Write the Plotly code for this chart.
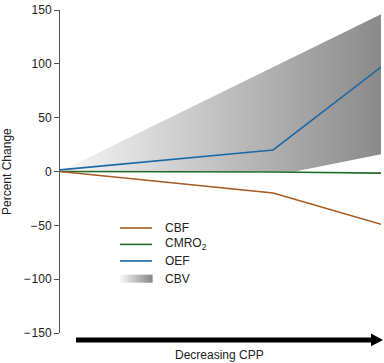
import plotly.graph_objects as go

# ---- data ----
cpp_stage = [0.0, 0.664, 1.0]
cbf = [0, -20, -49]
cmro2 = [0, -0.5, -1.5]
oef = [1.5, 20, 97]
cbv_upper_x = [0.0, 1.0]
cbv_upper = [0, 146]
cbv_lower_x = [0.0, 0.732, 1.0]
cbv_lower = [0, 0, 16]
y_tickvals = [150, 100, 50, 0, -50, -100, -150]
y_ticktext = ["150", "100", "50", "0", "\u2212\u200a50", "\u2212\u200a100", "\u2212\u200a150"]
legend_names = ["CBF", "CMRO<sub>2</sub>", "OEF", "CBV"]

C_CBF = "#a65a1f"
C_CMRO = "#1f6b2a"
C_OEF = "#1d68a3"
FONT = "Liberation Sans, Arial, sans-serif"

fig = go.Figure()

# CBV band (gradient)
band_x = cbv_upper_x + cbv_lower_x[::-1]
band_y = cbv_upper + cbv_lower[::-1]
fig.add_trace(go.Scatter(
    x=band_x, y=band_y, mode="lines", fill="toself",
    line=dict(width=0, color="rgba(0,0,0,0)"),
    fillgradient=dict(type="horizontal",
                      colorscale=[[0, "#f7f7f7"], [1, "#8a8a8a"]]),
    hoverinfo="skip", showlegend=False))

fig.add_trace(go.Scatter(x=cpp_stage, y=cmro2, mode="lines",
                         line=dict(color=C_CMRO, width=1.6), showlegend=False))
fig.add_trace(go.Scatter(x=cpp_stage, y=cbf, mode="lines",
                         line=dict(color=C_CBF, width=1.6), showlegend=False))
fig.add_trace(go.Scatter(x=cpp_stage, y=oef, mode="lines",
                         line=dict(color=C_OEF, width=1.6), showlegend=False))

L, R, T, B = 60, 3, 6, 30
W, H = 384, 363
PW = W - L - R
PH = H - T - B


def px(x):
    return (x - L) / PW


def py(y):
    return (H - B - y) / PH


shapes = []
annotations = []

# manual legend
leg_rows = [226.7, 243.3, 260.0, 278.0]
leg_colors = [C_CBF, C_CMRO, C_OEF]
for i, c in enumerate(leg_colors):
    shapes.append(dict(type="line", xref="paper", yref="paper",
                       x0=px(120), x1=px(152), y0=py(leg_rows[i]), y1=py(leg_rows[i]),
                       line=dict(color=c, width=1.6)))
# gradient swatch for CBV
nsteps = 16
for k in range(nsteps):
    g = int(245 - (245 - 138) * k / (nsteps - 1))
    x0 = 120 + 32 * k / nsteps
    x1 = 120 + 32 * (k + 1) / nsteps
    shapes.append(dict(type="rect", xref="paper", yref="paper",
                       x0=px(x0), x1=px(x1) + 0.002, y0=py(282), y1=py(274),
                       line=dict(width=0), fillcolor=f"rgb({g},{g},{g})"))
for i, name in enumerate(legend_names):
    annotations.append(dict(text=name, xref="paper", yref="paper",
                            x=px(163), y=py(leg_rows[i]), xanchor="left", yanchor="middle",
                            showarrow=False, font=dict(size=12, color="#222", family=FONT)))

# bottom arrow (shaft + head)
shapes.append(dict(type="line", xref="paper", yref="paper",
                   x0=px(76), x1=px(373), y0=py(340), y1=py(340),
                   line=dict(color="#000", width=5)))
shapes.append(dict(type="path", xref="paper", yref="paper",
                   path=f"M {px(371)},{py(333.5)} L {px(383)},{py(340)} L {px(371)},{py(346.5)} Z",
                   fillcolor="#000", line=dict(width=0)))
annotations.append(dict(text="Decreasing CPP", xref="paper", yref="paper",
                        x=px(219), y=py(355), xanchor="center", yanchor="middle",
                        showarrow=False, font=dict(size=12, color="#222", family=FONT)))
# y title
annotations.append(dict(text="Percent Change", xref="paper", yref="paper",
                        x=px(7), y=py(170), xanchor="center", yanchor="middle",
                        textangle=-90, showarrow=False,
                        font=dict(size=12, color="#222", family=FONT)))

fig.update_layout(
    width=W, height=H,
    margin=dict(l=L, r=R, t=T, b=B),
    paper_bgcolor="white", plot_bgcolor="white",
    showlegend=False,
    xaxis=dict(range=[0, 1], visible=False),
    yaxis=dict(range=[-150, 150], tickvals=y_tickvals, ticktext=y_ticktext,
               showgrid=False, zeroline=False, showline=True,
               linecolor="#555", linewidth=1, ticks="outside", ticklen=5,
               tickcolor="#555", ticklabeloverflow="allow",
               tickfont=dict(size=12, color="#222", family=FONT)),
    shapes=shapes, annotations=annotations,
)

fig.write_html("out.html", config={"displayModeBar": False},
               post_script="document.body.style.margin='0';document.body.style.padding='0';")
